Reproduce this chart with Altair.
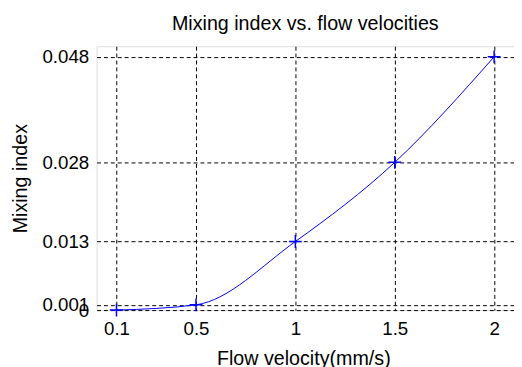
import altair as alt
import pandas as pd

velocity = [0.1, 0.5, 1.0, 1.5, 2.0]
mixing = [0.0, 0.001, 0.013, 0.028, 0.048]
x_ticks = [0.1, 0.5, 1.0, 1.5, 2.0]
y_ticks = [0.0, 0.001, 0.013, 0.028, 0.048]

df = pd.DataFrame({"v": velocity, "m": mixing})

FONT = "Liberation Sans"
BLUE = "#0000ff"

x_enc = alt.X(
    "v:Q",
    scale=alt.Scale(domain=[0, 2.1], nice=False, zero=False),
    axis=alt.Axis(
        values=x_ticks,
        title="Flow velocity(mm/s)",
        labelExpr="format(datum.value, '~g')",
        grid=True,
        gridColor="black",
        gridDash=[4, 3],
        gridWidth=1,
        gridOpacity=1,
        ticks=False,
        domain=False,
        labelPadding=10,
        labelFont=FONT,
        labelFontSize=19,
        labelColor="black",
        labelFlush=False,
        labelOverlap=False,
        titleFont=FONT,
        titleFontSize=20,
        titleFontWeight="normal",
        titleColor="black",
        titleBaseline="alphabetic",
        titleY=55,
        titleX=210,
        titleAlign="center",
    ),
)

y_enc = alt.Y(
    "m:Q",
    scale=alt.Scale(domain=[0, 0.05], nice=False, zero=False),
    axis=alt.Axis(
        values=y_ticks,
        title="Mixing index",
        labelExpr="datum.value == 0 ? '0' : format(datum.value, '.3f')",
        grid=True,
        gridColor="black",
        gridDash=[4, 3],
        gridWidth=1,
        gridOpacity=1,
        ticks=False,
        domain=False,
        labelPadding=8,
        labelFont=FONT,
        labelFontSize=19,
        labelColor="black",
        labelFlush=False,
        labelOverlap=False,
        titleFont=FONT,
        titleFontSize=20,
        titleFontWeight="normal",
        titleColor="black",
        titleAngle=270,
        titleAlign="center",
        titleBaseline="alphabetic",
        titleX=-71,
        titleY=134,
    ),
)

base = alt.Chart(df)

line = base.mark_line(color=BLUE, strokeWidth=1, interpolate="monotone").encode(x=x_enc, y=y_enc)
pts = base.mark_point(
    shape="M-1,0L1,0M0,-1L0,1",
    size=170,
    color=BLUE,
    filled=False,
    strokeWidth=1.5,
    opacity=1,
).encode(x="v:Q", y="m:Q")

chart = (
    alt.layer(line, pts)
    .properties(
        width=424,
        height=268,
        title=alt.TitleParams(
            "Mixing index vs. flow velocities",
            font=FONT,
            fontSize=20,
            fontWeight="normal",
            color="black",
            anchor="middle",
            frame="group",
            baseline="alphabetic",
            offset=16,
            dy=19,
        ),
        autosize=alt.AutoSizeParams(type="none"),
        padding={"left": 90, "top": 36, "right": 0, "bottom": 60},
    )
    .configure_view(stroke="black", strokeWidth=1)
    .configure(background="white")
)

chart.save("out.html", embed_options={"renderer": "svg", "actions": False})
